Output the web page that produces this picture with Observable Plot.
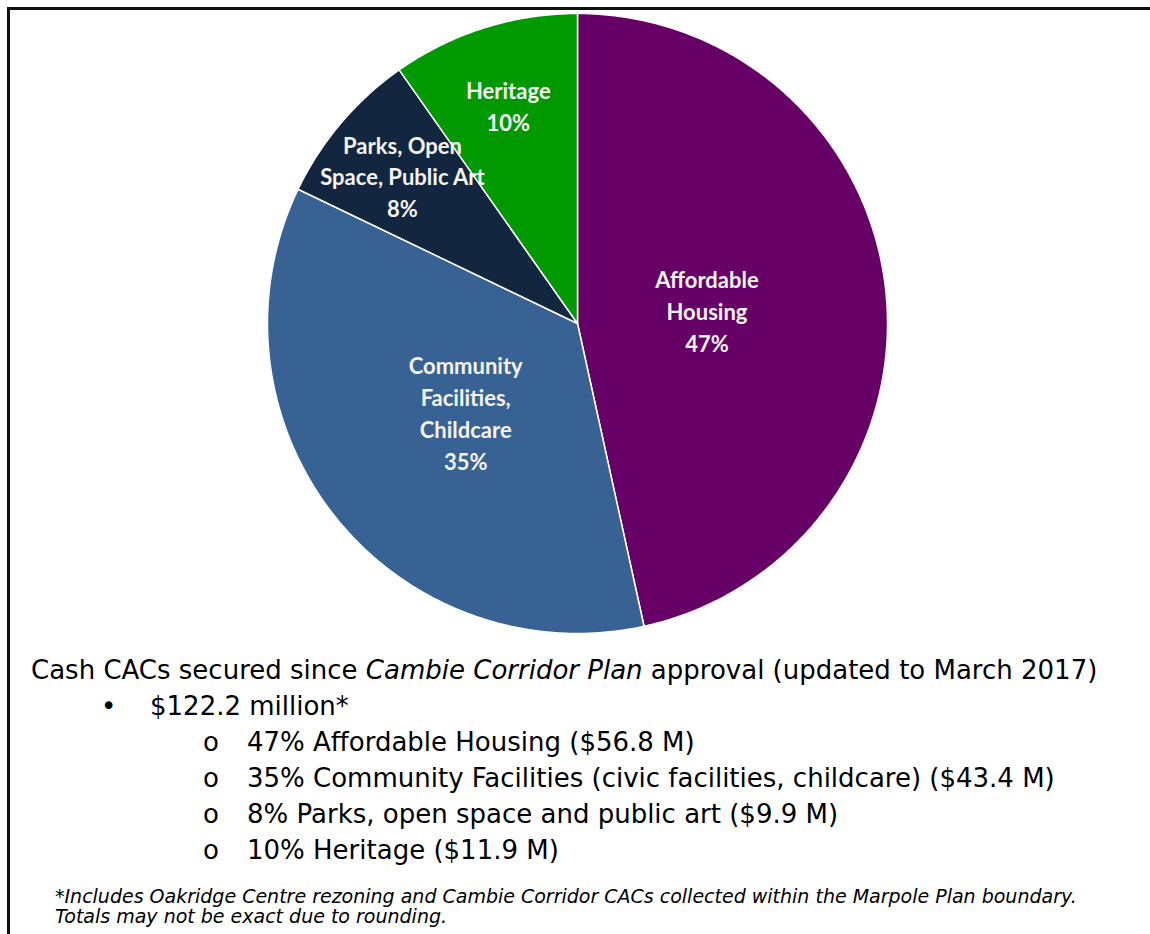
<!DOCTYPE html>
<html>
<head>
<meta charset="utf-8">
<script src="https://cdn.jsdelivr.net/npm/d3@7"></script>
<script src="https://cdn.jsdelivr.net/npm/@observablehq/plot@0.6"></script>
<style>
  html, body { margin: 0; padding: 0; background: #fff; }
  body { width: 1150px; height: 934px; position: relative; overflow: hidden; font-family: Tahoma, "DejaVu Sans", sans-serif; color: #000; }
  #frame { position: absolute; left: 7px; top: 7px; width: 1300px; height: 1100px; border-left: 3px solid #111; border-top: 3px solid #111; z-index: 2; pointer-events: none; }
  #chart { position: absolute; left: 0; top: 0; }
  .txt { position: absolute; white-space: nowrap; font-size: 26px; line-height: 36px; }
  .note { position: absolute; left: 55px; top: 886px; font-size: 19px; line-height: 20px; font-style: italic; white-space: nowrap; }
</style>
</head>
<body>
<div id="frame"></div>
<div id="chart"></div>
<div class="txt" style="left:31px; top:652px;">Cash CACs secured since <i>Cambie Corridor Plan</i> approval (updated to March 2017)</div>
<div class="txt" style="left:101px; top:688px;">•</div>
<div class="txt" id="total" style="left:150px; top:688px;"></div>
<div id="sublist"></div>
<div class="note">*Includes Oakridge Centre rezoning and Cambie Corridor CACs collected within the Marpole Plan boundary.<br>Totals may not be exact due to rounding.</div>
<script>
// ---- data ----
const categories = ["Affordable Housing", "Community Facilities, Childcare", "Parks, Open Space, Public Art", "Heritage"];
const amounts = [56.8, 43.4, 9.9, 11.9];           // $ millions
const percents = [47, 35, 8, 10];
const sliceLabels = [
  ["Affordable", "Housing"],
  ["Community", "Facilities,", "Childcare"],
  ["Parks, Open", "Space, Public Art"],
  ["Heritage"]
];
const listItems = [
  "47% Affordable Housing ($56.8 M)",
  "35% Community Facilities (civic facilities, childcare) ($43.4 M)",
  "8% Parks, open space and public art ($9.9 M)",
  "10% Heritage ($11.9 M)"
];
const totalText = "$122.2 million*";
const colors = ["#660066", "#386194", "#132640", "#009900"];

// ---- build ----
const rows = categories.map((name, i) => ({name, amount: amounts[i], pct: percents[i], lines: sliceLabels[i]}));
const total = d3.sum(amounts);
const arcs = d3.pie().sort(null).value(d => d.amount)(rows);

const pts = [];
for (const a of arcs) {
  pts.push({name: a.data.name, x: 0, y: 0});
  const n = Math.max(2, Math.ceil((a.endAngle - a.startAngle) / (Math.PI / 360)));
  for (let k = 0; k <= n; k++) {
    const t = a.startAngle + (a.endAngle - a.startAngle) * k / n;
    pts.push({name: a.data.name, x: Math.sin(t), y: Math.cos(t)});
  }
}
const labels = arcs.map(a => {
  const mid = (a.startAngle + a.endAngle) / 2;
  const share = a.data.amount / total;
  const r = share > 0.4 ? 0.42 : share > 0.2 ? 0.46 : 0.74;
  return {x: r * Math.sin(mid), y: r * Math.cos(mid), text: a.data.lines.join("\n") + "\n" + a.data.pct + "%"};
});

const chart = Plot.plot({
  width: 1150,
  height: 640,
  margin: 0,
  style: {background: "transparent"},
  x: {domain: [-1, 1], range: [267, 887], axis: null},
  y: {domain: [-1, 1], range: [633, 13], axis: null},
  color: {domain: categories, range: colors},
  marks: [
    Plot.line(pts, {x: "x", y: "y", z: "name", fill: "name", stroke: "#fff", strokeWidth: 1.5, curve: "linear-closed"}),
    Plot.text(labels, {x: "x", y: "y", text: "text", fill: "#f4f4f4", fontSize: 22, fontWeight: "bold", fontFamily: "Lato, 'Open Sans', sans-serif", lineHeight: 1.45})
  ]
});
document.getElementById("chart").appendChild(chart);

document.getElementById("total").textContent = totalText;
const sub = document.getElementById("sublist");
listItems.forEach((t, i) => {
  const top = 724 + i * 36;
  const o = document.createElement("div");
  o.className = "txt"; o.style.left = "203px"; o.style.top = top + "px"; o.textContent = "o";
  const d = document.createElement("div");
  d.className = "txt"; d.style.left = "247px"; d.style.top = top + "px"; d.textContent = t;
  sub.appendChild(o); sub.appendChild(d);
});
</script>
</body>
</html>
